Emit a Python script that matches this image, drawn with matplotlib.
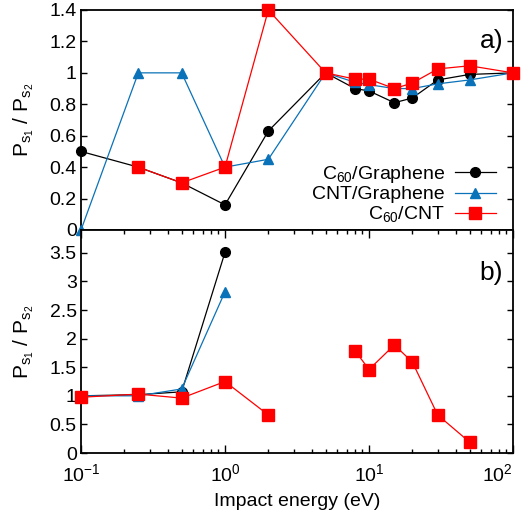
import numpy as np
import matplotlib
matplotlib.use("Agg")
import matplotlib.pyplot as plt
from matplotlib.ticker import FuncFormatter, LogLocator, NullFormatter, MultipleLocator

fam = "Liberation Sans"
plt.rcParams['font.family'] = [fam, 'DejaVu Sans']
plt.rcParams['mathtext.fontset'] = 'custom'
plt.rcParams['mathtext.rm'] = fam
plt.rcParams['mathtext.it'] = fam
plt.rcParams['mathtext.bf'] = fam

# ---- data: panel a) ----
energy_a = [0.1, 0.25, 0.5, 1, 2, 5, 8, 10, 15, 20, 30, 50, 100]
c60_gr_a = [0.50, 0.40, 0.30, 0.16, 0.63, 1.00, 0.90, 0.885, 0.81, 0.84, 0.955, 0.99, 1.00]
cnt_gr_a = [0.00, 1.00, 1.00, 0.40, 0.45, 1.00, 0.94, 0.925, 0.90, 0.90, 0.93, 0.955, 1.00]
c60_cnt_a = [np.nan, 0.40, 0.30, 0.40, 1.40, 1.00, 0.96, 0.96, 0.90, 0.935, 1.025, 1.045, 1.00]

# ---- data: panel b) ----
energy_b = [0.1, 0.25, 0.5, 1, 2, 5, 8, 10, 15, 20, 30, 50]
c60_gr_b = [1.00, 1.02, 1.07, 3.51, np.nan, np.nan, np.nan, np.nan, np.nan, np.nan, np.nan, np.nan]
cnt_gr_b = [1.00, 1.00, 1.12, 2.82, np.nan, np.nan, np.nan, np.nan, np.nan, np.nan, np.nan, np.nan]
c60_cnt_b = [0.975, 1.03, 0.96, 1.25, 0.665, np.nan, 1.79, 1.46, 1.89, 1.59, 0.665, 0.19]

labels = ["C$_{60}$/Graphene", "CNT/Graphene", "C$_{60}$/CNT"]
ylabel = "P$_{\\mathrm{s}_1}$ / P$_{\\mathrm{s}_2}$"

BLUE = "#0a72b8"
RED = "#ff0000"
FS = 14

fig = plt.figure(figsize=(5.25, 5.21), dpi=100)
L, R = 81/525, 513/525
axa = fig.add_axes([L, 1-230/521, R-L, 220/521])
axb = fig.add_axes([L, 1-453/521, R-L, 223/521], sharex=axa)

def draw(ax, x, y1, y2, y3):
    ax.plot(x, y1, '-', color='black', lw=0.9, marker='o', ms=7, clip_on=False, zorder=3, label=labels[0])
    ax.plot(x, y2, '-', color=BLUE, lw=0.9, marker='^', ms=7, clip_on=False, zorder=3, label=labels[1])
    ax.plot(x, y3, '-', color=RED, lw=0.9, marker='s', ms=8.5, clip_on=False, zorder=4, label=labels[2])

draw(axa, energy_a, c60_gr_a, cnt_gr_a, c60_cnt_a)
draw(axb, energy_b, c60_gr_b, cnt_gr_b, c60_cnt_b)

fmt = FuncFormatter(lambda v, p: "%g" % round(v, 3))
for ax in (axa, axb):
    ax.set_xscale('log')
    ax.set_xlim(0.1, 100)
    for s in ax.spines.values():
        s.set_linewidth(1.3)
    ax.yaxis.set_major_formatter(fmt)
    ax.tick_params(axis='y', which='major', direction='in', length=4, width=1, left=True, right=True,
                   labelsize=FS, pad=3)
    ax.set_ylabel(ylabel, fontsize=15)
    ax.yaxis.set_label_coords(-0.105, 0.5)

axa.set_ylim(0, 1.4)
axa.yaxis.set_major_locator(MultipleLocator(0.2))
axa.tick_params(axis='x', which='both', bottom=False, top=False, labelbottom=False)

axb.set_ylim(0, 3.9)
axb.yaxis.set_major_locator(MultipleLocator(0.5))
axb.xaxis.set_major_locator(LogLocator(base=10, numticks=10))
axb.xaxis.set_minor_locator(LogLocator(base=10, subs=np.arange(2, 10), numticks=10))
axb.xaxis.set_minor_formatter(NullFormatter())
axb.xaxis.set_major_formatter(FuncFormatter(lambda v, p: "10$^{%d}$" % round(np.log10(v))))
axb.tick_params(axis='x', which='major', direction='in', length=6, width=1, top=True, bottom=True,
                labelsize=FS, pad=7)
axb.tick_params(axis='x', which='minor', direction='in', length=3, width=1, top=True, bottom=True)
axb.set_xlabel("Impact energy (eV)", fontsize=FS, labelpad=6)

fig.canvas.draw()
px_per_decade = axb.transData.transform((10, 0))[0] - axb.transData.transform((1, 0))[0]
for t in axb.xaxis.get_major_ticks():
    if abs(t.get_loc() - 100) < 1e-6:
        t.label1.set_horizontalalignment('right')
        t.label1.set_x(t.get_loc() * 10 ** (4 / px_per_decade))

axa.text(0.95, 0.86, "a)", transform=axa.transAxes, fontsize=19, ha='center', va='center')
axb.text(0.95, 0.807, "b)", transform=axb.transAxes, fontsize=19, ha='center', va='center')

axa.legend(loc='lower right', bbox_to_anchor=(0.991, -0.036), frameon=False, markerfirst=False,
           fontsize=FS, handlelength=2.1, handletextpad=0.5, labelspacing=0.05, borderpad=0.2)

fig.savefig("out.png", dpi=100)
